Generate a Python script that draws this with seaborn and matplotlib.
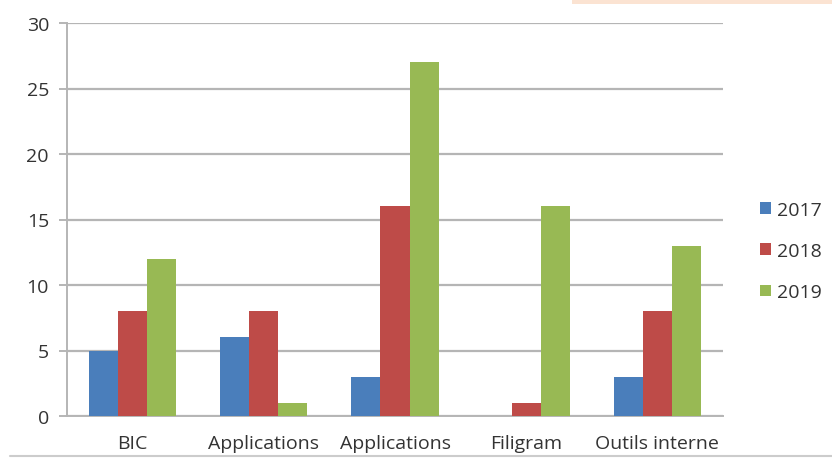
import matplotlib
matplotlib.use("Agg")
import matplotlib.pyplot as plt
import seaborn as sns
import pandas as pd
import numpy as np
from matplotlib.patches import Rectangle

categories = ["BIC", "Applications", "Applications", "Filigram", "Outils interne"]
years = ["2017", "2018", "2019"]
v2017 = [5, 6, 3, 0, 3]
v2018 = [8, 8, 16, 1, 8]
v2019 = [12, 1, 27, 16, 13]
colors = ["#4a7ebb", "#be4b48", "#98b954"]

rows = []
for yr, vals in zip(years, [v2017, v2018, v2019]):
    for i, v in enumerate(vals):
        rows.append({"cat": i, "year": yr, "value": v})
df = pd.DataFrame(rows)

sns.set_theme(style="white")
plt.rcParams["font.family"] = ["Open Sans", "DejaVu Sans"]

fig = plt.figure(figsize=(8.32, 4.60), dpi=100)
ax = fig.add_axes([67/832, 1-417/460, (723-67)/832, (417-24)/460])

sns.barplot(data=df, x="cat", y="value", hue="year", palette=colors,
            order=list(range(len(categories))), hue_order=years,
            width=0.665, saturation=1, errorbar=None, ax=ax, zorder=3,
            linewidth=0, edgecolor="none")

ax.set_ylim(0, 30)
ax.set_xlim(-0.5, len(categories) - 0.5)
ax.set_yticks(range(0, 31, 5))
ax.yaxis.grid(True, color="#b5b5b5", linewidth=1.6, zorder=0)
ax.set_axisbelow(True)
ax.set_xticks(range(len(categories)))
ax.set_xticklabels(categories)
ax.set_xticks(np.arange(-0.5, len(categories), 1.0), minor=True)
fs = 14
ax.tick_params(axis="x", which="major", length=0, pad=13, labelsize=fs, labelcolor="#333333")
ax.tick_params(axis="x", which="minor", length=6, width=1.2, color="#b5b5b5", direction="out")
ax.tick_params(axis="y", length=6, width=1.4, color="#b5b5b5", pad=7, labelsize=fs, labelcolor="#333333", left=True)
ax.set_xlabel("")
ax.set_ylabel("")
for s in ["top", "right"]:
    ax.spines[s].set_visible(False)
ax.spines["left"].set_color("#b5b5b5")
ax.spines["left"].set_linewidth(1.4)
ax.spines["bottom"].set_color("#b5b5b5")
ax.spines["bottom"].set_linewidth(1.4)

handles, labels = ax.get_legend_handles_labels()
ax.legend(handles, labels, loc="center left", bbox_to_anchor=(1.03, 0.42),
          frameon=False, handlelength=0.55, handleheight=0.55, handletextpad=0.3,
          labelspacing=1.2, fontsize=fs, labelcolor="#333333")

# decorative peach banner top-right and bottom rule
fig.patches.append(Rectangle((572/832, 1-5/460), (832-572)/832, 5/460,
                             transform=fig.transFigure, facecolor="#fbe3d2",
                             edgecolor="none", zorder=0))
fig.add_artist(plt.Line2D([10/832, 1], [1-457/460, 1-457/460], transform=fig.transFigure,
                          color="#cccccc", linewidth=1.5))

fig.savefig("out.png", dpi=100)
